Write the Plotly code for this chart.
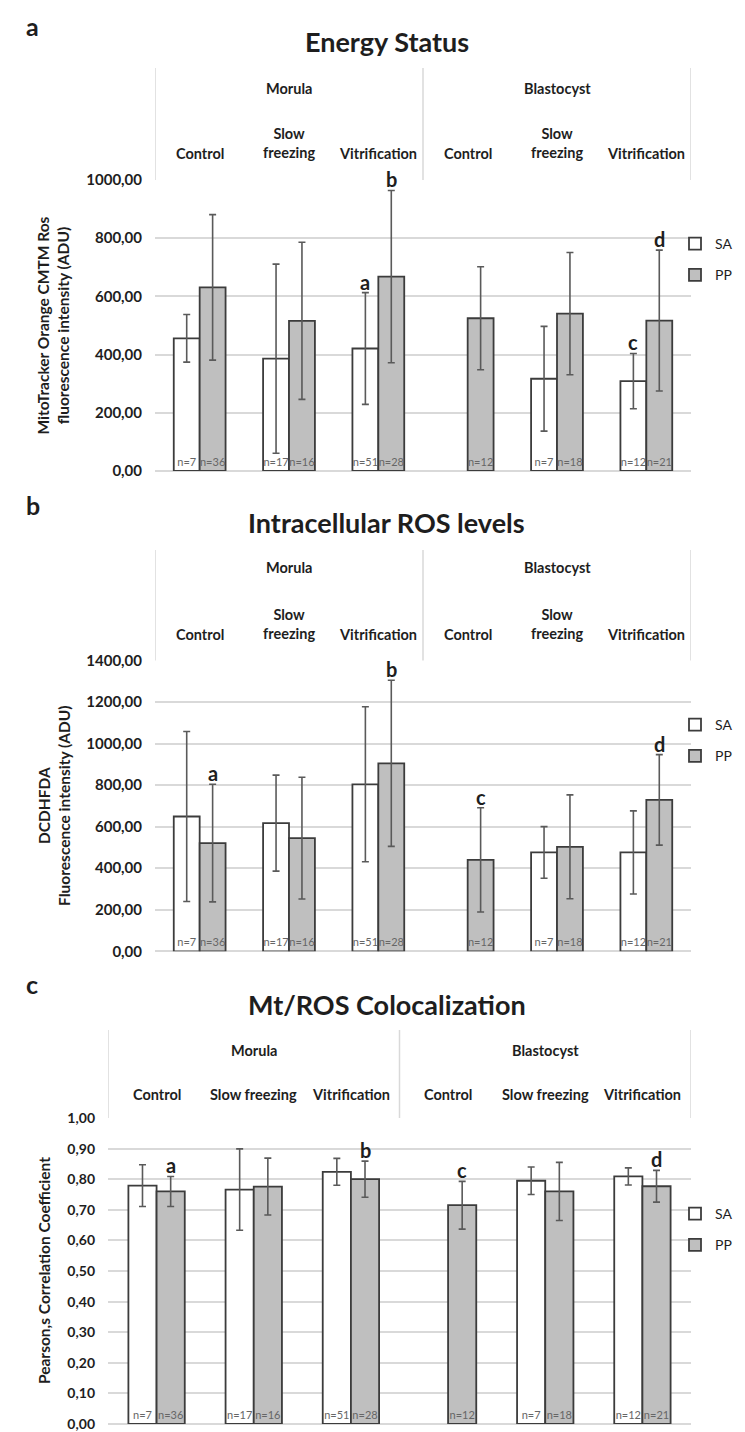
import plotly.graph_objects as go

W, H = 745, 1432
FONT = "Lato"
DARK = "#1e1e1e"
GRID = "#d9d9d9"

# ---------------- data ----------------
stages = ["Morula", "Blastocyst"]
treatments_ab = ["Control", "Slow<br>freezing", "Vitrification"] * 2
treatments_c = ["Control", "Slow freezing", "Vitrification"] * 2
positions = [0, 1, 2, 3, 4, 5]          # category index (Morula x3, Blastocyst x3)
series = ["SA", "PP"]

n_SA = ["n=7", "n=17", "n=51", "", "n=7", "n=12"]
n_PP = ["n=36", "n=16", "n=28", "n=12", "n=18", "n=21"]

# a) Energy Status
sa_a = [456, 386, 421, None, 317, 309]
sa_a_err = [82, 325, 192, None, 180, 95]
pp_a = [631, 516, 668, 525, 541, 517]
pp_a_err = [250, 270, 296, 177, 210, 242]
sig_a = [("SA", 2, "a"), ("PP", 2, "b"), ("SA", 5, "c"), ("PP", 5, "d")]

# b) Intracellular ROS levels
sa_b = [649, 617, 804, None, 476, 476]
sa_b_err = [409, 231, 373, None, 124, 200]
pp_b = [521, 545, 905, 440, 503, 729]
pp_b_err = [283, 293, 400, 251, 250, 218]
sig_b = [("PP", 0, "a"), ("PP", 2, "b"), ("PP", 3, "c"), ("PP", 5, "d")]

# c) Mt/ROS Colocalization
sa_c = [0.779, 0.766, 0.824, None, 0.795, 0.809]
sa_c_err = [0.068, 0.133, 0.044, None, 0.045, 0.028]
pp_c = [0.760, 0.776, 0.800, 0.715, 0.760, 0.777]
pp_c_err = [0.049, 0.093, 0.059, 0.078, 0.095, 0.052]
sig_c = [("PP", 0, "a"), ("PP", 2, "b"), ("PP", 3, "c"), ("PP", 5, "d")]

# ---------------- layout geometry (pixels) ----------------
def py(p):
    return 1 - p / H

def px(p):
    return p / W

panels = [
    dict(key="", letter="a", title="Energy Status", sa=sa_a, sae=sa_a_err, pp=pp_a, ppe=pp_a_err,
         sig=sig_a, ymax=1000, dtick=200, fmt=".2f", treat=treatments_ab,
         ytitle="MitoTracker Orange CMTM Ros<br>fluorescence intensity (ADU)",
         top=172, bot=463, left=147, boxtop=60, stage_y=80, treat_y=145,
         letter_y=18, title_y=34, ytitle_x=45, leg_y=220, tick=15),
    dict(key="2", letter="b", title="Intracellular ROS levels", sa=sa_b, sae=sa_b_err, pp=pp_b, ppe=pp_b_err,
         sig=sig_b, ymax=1400, dtick=200, fmt=".2f", treat=treatments_ab,
         ytitle="DCDHFDA<br>Fluorescence intensity (ADU)",
         top=652.5, bot=943.3, left=147, boxtop=542, stage_y=560, treat_y=626,
         letter_y=497, title_y=514, ytitle_x=46, leg_y=701, tick=15),
    dict(key="3", letter="c", title="Mt/ROS Colocalization", sa=sa_c, sae=sa_c_err, pp=pp_c, ppe=pp_c_err,
         sig=sig_c, ymax=1.0, dtick=0.1, fmt=".2f", treat=treatments_c,
         ytitle="Pearson,s Correlation Coefficient",
         top=1110, bot=1416, left=100, boxtop=1022, stage_y=1042, treat_y=1086,
         letter_y=976, title_y=996, ytitle_x=36, leg_y=1190, tick=14),
]
RIGHT = 683
BARGAP = 0.42
OFFS = {"SA": -(1 - BARGAP) / 4, "PP": (1 - BARGAP) / 4}

fig = go.Figure()
annotations = []
shapes = []
layout_axes = {}

for i, p in enumerate(panels):
    k = p["key"]
    xa, ya = "x" + k, "y" + k
    leg = "legend" + k
    for name, vals, errs, texts, fill in [
        ("SA", p["sa"], p["sae"], n_SA, "#ffffff"),
        ("PP", p["pp"], p["ppe"], n_PP, "#bfbfbf"),
    ]:
        fig.add_trace(go.Bar(
            x=positions, y=vals, name=name, xaxis=xa, yaxis=ya,
            legend=leg, legendgroup=f"{p['letter']}_{name}",
            marker=dict(color=fill, line=dict(color="#3c3c3c", width=1.8)),
            error_y=dict(type="data", array=errs, color="#5a5a5a", thickness=1.6, width=3.5),
            text=texts, textposition="inside", insidetextanchor="start",
            textangle=0, constraintext="none",
            insidetextfont=dict(family=FONT, size=11, color="#666666"),
            hoverinfo="skip",
        ))

    layout_axes["xaxis" + k] = dict(
        domain=[px(p["left"]), px(RIGHT)], range=[-0.5, 5.5], anchor=ya,
        showticklabels=False, showgrid=False, zeroline=False, showline=False, fixedrange=True,
    )
    layout_axes["yaxis" + k] = dict(
        domain=[py(p["bot"]), py(p["top"])], range=[0, p["ymax"]], dtick=p["dtick"],
        tickformat=p["fmt"], anchor=xa, showgrid=True, gridcolor=GRID, gridwidth=1.5,
        zeroline=True, zerolinecolor=GRID, zerolinewidth=1.5, showline=False,
        ticks="", ticklabelstandoff=12,
        tickfont=dict(family=FONT, size=p["tick"], color=DARK, weight="bold"),
    )
    layout_axes[leg] = dict(
        x=px(667), xanchor="left", y=py(p["leg_y"]), yanchor="top",
        bgcolor="rgba(0,0,0,0)", font=dict(family=FONT, size=14, color=DARK),
        traceorder="grouped", tracegroupgap=10, itemwidth=30,
    )

    # header box lines
    for xv in [-0.5, 2.5, 5.5]:
        shapes.append(dict(type="line", xref=xa, yref="paper", x0=xv, x1=xv,
                           y0=py(p["top"]), y1=py(p["boxtop"]),
                           line=dict(color=GRID, width=1.5)))
    # stage labels
    for s, xv in zip(stages, [1, 4]):
        annotations.append(dict(xref=xa, yref="paper", x=xv, y=py(p["stage_y"]), text=f"<b>{s}</b>",
                                showarrow=False, yanchor="middle",
                                font=dict(family=FONT, size=14.5, color=DARK)))
    # treatment labels
    for t, xv in zip(p["treat"], positions):
        two = "<br>" in t
        annotations.append(dict(xref=xa, yref="paper", x=xv,
                                y=py(p["treat_y"] - (10 if two else 0)),
                                text=f"<b>{t}</b>", showarrow=False, yanchor="middle",
                                font=dict(family=FONT, size=14.5, color=DARK)))
    # significance letters
    for ser, idx, lab in p["sig"]:
        v = (p["sa"] if ser == "SA" else p["pp"])[idx]
        e = (p["sae"] if ser == "SA" else p["ppe"])[idx]
        annotations.append(dict(xref=xa, yref=ya, x=idx + OFFS[ser], y=v + e, text=f"<b>{lab}</b>",
                                showarrow=False, yanchor="bottom", yshift=-3,
                                font=dict(family=FONT, size=20, color=DARK)))
    # panel letter and title
    annotations.append(dict(xref="paper", yref="paper", x=px(16), y=py(p["letter_y"]),
                            text=f"<b>{p['letter']}</b>", showarrow=False, xanchor="left", yanchor="middle",
                            font=dict(family=FONT, size=25, color=DARK)))
    annotations.append(dict(xref="paper", yref="paper", x=px(379), y=py(p["title_y"]),
                            text=f"<b>{p['title']}</b>", showarrow=False, xanchor="center", yanchor="middle",
                            font=dict(family=FONT, size=27, color=DARK)))
    # y axis title
    annotations.append(dict(xref="paper", yref="paper", x=px(p["ytitle_x"]),
                            y=py((p["top"] + p["bot"]) / 2),
                            text=f"<b>{p['ytitle']}</b>", showarrow=False, textangle=-90,
                            xanchor="center", yanchor="middle",
                            font=dict(family=FONT, size=15.5, color=DARK)))

fig.update_layout(
    width=W, height=H, margin=dict(l=0, r=0, t=0, b=0, autoexpand=False),
    paper_bgcolor="white", plot_bgcolor="white",
    barmode="group", bargap=BARGAP, bargroupgap=0,
    separators=", ", showlegend=True,
    font=dict(family=FONT, color=DARK),
    annotations=annotations, shapes=shapes,
    **layout_axes,
)

fig.write_html("out.html")
